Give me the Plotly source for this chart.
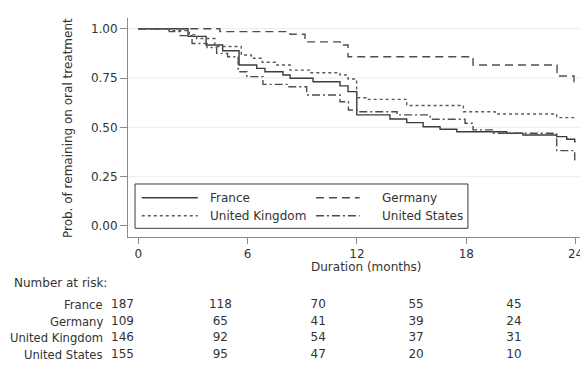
import plotly.graph_objects as go

# ---- data ----
france_t = [0, 2.73, 3.72, 4.63, 5.53, 6.50, 6.95, 7.94, 8.33, 9.59, 11.07, 11.51, 11.99,
            13.81, 14.73, 15.63, 16.56, 17.48, 20.22, 21.11, 22.96, 23.51, 23.95, 24.0]
france_s = [1.0, 0.961, 0.917, 0.888, 0.816, 0.799, 0.782, 0.765, 0.749, 0.731, 0.710, 0.681, 0.563,
            0.542, 0.524, 0.503, 0.490, 0.478, 0.470, 0.461, 0.453, 0.440, 0.427, 0.427]

germany_t = [0, 4.48, 8.33, 9.15, 11.07, 11.51, 18.37, 22.98, 23.91, 24.0]
germany_s = [1.0, 0.985, 0.972, 0.933, 0.917, 0.858, 0.816, 0.760, 0.731, 0.731]

uk_t = [0, 1.70, 2.80, 3.20, 4.20, 5.65, 6.20, 6.80, 7.60, 8.33, 9.40, 11.07, 11.51, 11.98,
        12.50, 14.73, 17.84, 19.58, 22.96, 23.95, 24.0]
uk_s = [1.0, 0.990, 0.970, 0.950, 0.910, 0.867, 0.850, 0.830, 0.816, 0.790, 0.777, 0.765, 0.745, 0.650,
        0.642, 0.611, 0.579, 0.568, 0.549, 0.545, 0.545]

us_t = [0, 1.70, 2.30, 2.95, 3.77, 4.30, 4.90, 5.48, 5.96, 6.84, 8.23, 9.24, 11.07, 11.53, 11.99,
        14.20, 16.02, 17.93, 18.37, 19.49, 22.96, 23.95, 24.0]
us_s = [1.0, 0.985, 0.965, 0.925, 0.905, 0.875, 0.858, 0.782, 0.757, 0.718, 0.706, 0.664, 0.630, 0.588, 0.579,
        0.563, 0.541, 0.521, 0.487, 0.470, 0.382, 0.335, 0.335]

countries = ["France", "Germany", "United Kingdom", "United States"]
risk_times = [0, 6, 12, 18, 24]
risk_france = [187, 118, 70, 55, 45]
risk_germany = [109, 65, 41, 39, 24]
risk_uk = [146, 92, 54, 37, 31]
risk_us = [155, 95, 47, 20, 10]

y_ticks = [0.0, 0.25, 0.5, 0.75, 1.0]
grid_vals = [0.25, 0.5, 0.75, 1.0]
x_ticks = [0, 6, 12, 18, 24]

# ---- styling ----
FONT = "DejaVu Sans, sans-serif"
FS = 12
TXT = "#333333"
AX = "#8a8a8a"
LINE = "#4d4d4d"

series = [
    ("France", france_t, france_s, "solid", "#3c3c3c", 1.4),
    ("Germany", germany_t, germany_s, "8px,5px", LINE, 1.4),
    ("United Kingdom", uk_t, uk_s, "3px,3px", "#5a5a5a", 1.4),
    ("United States", us_t, us_s, "8px,3px,2px,3px", LINE, 1.4),
]

fig = go.Figure()
for name, t, s, dash, col, w in series:
    fig.add_trace(go.Scatter(x=t, y=s, mode="lines", name=name, line_shape="hv",
                             line=dict(color=col, width=w, dash=dash),
                             showlegend=False, xaxis="x", yaxis="y"))

# number at risk table
risk_rows = [risk_france, risk_germany, risk_uk, risk_us]
row_y = [3, 2, 1, 0]
for vals, yv in zip(risk_rows, row_y):
    fig.add_trace(go.Scatter(x=risk_times, y=[yv] * len(risk_times), mode="text",
                             text=[str(v) for v in vals], textposition="middle center",
                             textfont=dict(family=FONT, size=FS, color=TXT),
                             showlegend=False, xaxis="x2", yaxis="y2", cliponaxis=False,
                             hoverinfo="skip"))

shapes = []
# horizontal gridlines
for g in grid_vals:
    shapes.append(dict(type="line", xref="x domain", yref="y", x0=0, x1=1, y0=g, y1=g,
                       line=dict(color="#ebebeb", width=1), layer="below"))

# legend box (drawn)
shapes.append(dict(type="rect", xref="x", yref="y", x0=-0.18, x1=18.09, y0=-0.0117, y1=0.2129,
                   line=dict(color="#3a3a3a", width=1), fillcolor="white", layer="above"))
leg_pos = [(0.19, 3.26, 0.1434, 3.84), (9.75, 12.15, 0.1434, 13.24),
           (0.19, 3.26, 0.0522, 3.84), (9.75, 12.15, 0.0522, 13.24)]
annotations = []
for i, (x0, x1, yy, xt) in enumerate(leg_pos):
    name, t, s, dash, col, w = series[i]
    shapes.append(dict(type="line", xref="x", yref="y", x0=x0, x1=x1, y0=yy, y1=yy,
                       line=dict(color=col, width=w, dash=dash), layer="above"))
    annotations.append(dict(text=name, xref="x", yref="y", x=xt, y=yy, xanchor="left",
                            yanchor="middle", showarrow=False,
                            font=dict(family=FONT, size=FS, color=TXT)))

# axis titles
annotations.append(dict(text="Prob. of remaining on oral treatment", xref="paper", yref="paper",
                        x=0.1018, y=0.682, textangle=-90, xanchor="center", yanchor="middle",
                        showarrow=False, font=dict(family=FONT, size=FS, color=TXT)))
annotations.append(dict(text="Duration (months)", xref="paper", yref="paper",
                        x=(367 - 10) / 570, y=(364 - 267) / 346, xanchor="center", yanchor="middle",
                        showarrow=False, font=dict(family=FONT, size=FS, color=TXT)))
# number at risk labels
annotations.append(dict(text="Number at risk:", xref="paper", yref="y2", x=0.003, y=4.32,
                        xanchor="left", yanchor="middle", showarrow=False,
                        font=dict(family=FONT, size=FS, color=TXT)))
for c, yv in zip(countries, row_y):
    annotations.append(dict(text=c, xref="paper", yref="y2", x=(104.5 - 10) / 570, y=yv,
                            xanchor="right", yanchor="middle", showarrow=False,
                            font=dict(family=FONT, size=11.6, color=TXT)))

# page body has an 8px default margin: figure is sized to fit the 588x374 window
fig.update_layout(
    width=580, height=366,
    margin=dict(l=2, r=8, t=10, b=10, autoexpand=False),
    paper_bgcolor="white", plot_bgcolor="white",
    font=dict(family=FONT, size=FS, color=TXT),
    xaxis=dict(domain=[(128 - 10) / 570, 1.0], range=[-0.565, 24.24], tickvals=x_ticks,
               showgrid=False, zeroline=False, showline=True, linecolor=AX, linewidth=1,
               ticks="outside", ticklen=6, tickcolor=AX, tickfont=dict(family=FONT, size=FS, color=TXT),
               anchor="y"),
    yaxis=dict(domain=[(364 - 237) / 346, 1.0], range=[-0.0558, 1.0542], tickvals=y_ticks,
               tickformat=".2f", showgrid=False, zeroline=False, showline=True, linecolor=AX,
               linewidth=1, ticks="outside", ticklen=7, tickcolor=AX,
               tickfont=dict(family=FONT, size=FS, color=TXT), anchor="x"),
    xaxis2=dict(domain=[(122.5 - 10) / 570, (514 - 10) / 570], range=[0, 24], visible=False,
                anchor="y2"),
    yaxis2=dict(domain=[0, (364 - 270) / 346], range=[-0.54, 5.1], visible=False, anchor="x2"),
    shapes=shapes, annotations=annotations,
)

fig.write_html("out.html")
